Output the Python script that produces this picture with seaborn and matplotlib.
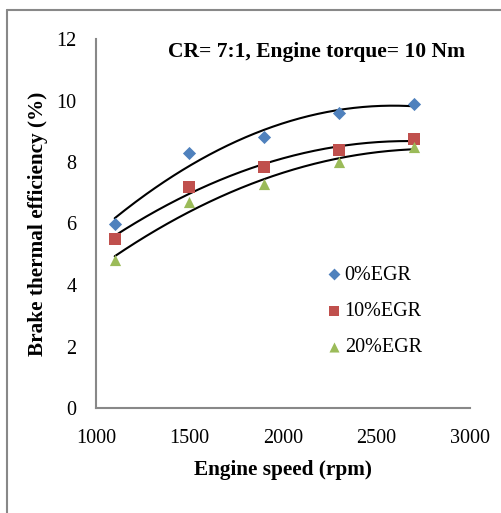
import numpy as np
import pandas as pd
import matplotlib
matplotlib.use("Agg")
import matplotlib.pyplot as plt
import seaborn as sns
from matplotlib.lines import Line2D

speed = [1100, 1500, 1900, 2300, 2700]
egr0 = [6.0, 8.3, 8.8, 9.6, 9.9]
egr10 = [5.5, 7.2, 7.85, 8.4, 8.75]
egr20 = [4.8, 6.7, 7.3, 8.0, 8.5]
series_names = ["0%EGR", "10%EGR", "20%EGR"]
colors = ["#4F81BD", "#C0504D", "#9BBB59"]
markers = ["D", "s", "^"]
x_ticks = [1000, 1500, 2000, 2500, 3000]
y_ticks = [0, 2, 4, 6, 8, 10, 12]

sns.set_style("white")
plt.rcParams["font.family"] = ["Liberation Serif", "DejaVu Serif"]
plt.rcParams["text.color"] = "black"
plt.rcParams["xtick.color"] = "black"
plt.rcParams["ytick.color"] = "black"
plt.rcParams["axes.labelcolor"] = "black"

df = pd.DataFrame({
    "speed": speed * 3,
    "eff": egr0 + egr10 + egr20,
    "series": [series_names[0]] * 5 + [series_names[1]] * 5 + [series_names[2]] * 5,
})

fig = plt.figure(figsize=(5.01, 5.13), dpi=100)
ax = fig.add_axes([96/501, 1-408/513, 374/501, 369/513])

for name, col, mk, vals in zip(series_names, colors, markers, [egr0, egr10, egr20]):
    sub = df[df["series"] == name]
    sns.scatterplot(data=sub, x="speed", y="eff", color=col, marker=mk,
                    s=45 if mk == "D" else 65, linewidth=0, ax=ax, zorder=3,
                    label=name)
    coef = np.polyfit(speed, vals, 2)
    xs = np.linspace(speed[0], speed[-1], 200)
    ax.plot(xs, np.polyval(coef, xs), color="black", lw=1.5, zorder=2)

ax.set_xlim(1000, 3000)
ax.set_ylim(0, 12)
ax.set_xticks(x_ticks)
ax.set_yticks(y_ticks)
ax.tick_params(axis="both", length=0, labelsize=14.5)
ax.tick_params(axis="x", pad=15)
ax.tick_params(axis="y", pad=14)
for s in ["top", "right"]:
    ax.spines[s].set_visible(False)
for s in ["left", "bottom"]:
    ax.spines[s].set_color("#888888")
    ax.spines[s].set_linewidth(1.5)

ax.set_xlabel("Engine speed (rpm)", fontsize=15.3, fontweight="bold", labelpad=9)
ax.set_ylabel("Brake thermal efficiency (%)", fontsize=15.3, fontweight="bold", labelpad=6)
ax.text(0.59, 0.965, "CR= 7:1, Engine torque= 10 Nm", transform=ax.transAxes,
        ha="center", va="center", fontsize=15.5, fontweight="bold")

leg = ax.legend(loc="center left", bbox_to_anchor=(0.56, 0.262), frameon=False,
                fontsize=14.5, handletextpad=0.05, labelspacing=0.85,
                handlelength=1.0, markerscale=0.9)

fig.add_artist(Line2D([7/501, 7/501], [0, 1-10/513], color="#888888", lw=1.5,
                      transform=fig.transFigure))
fig.add_artist(Line2D([7/501, 1], [1-10/513, 1-10/513], color="#888888", lw=1.5,
                      transform=fig.transFigure))

fig.savefig("out.png", dpi=100)
